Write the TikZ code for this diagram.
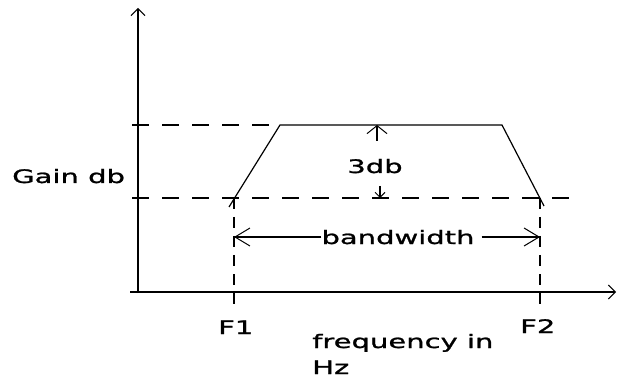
\documentclass[tikz,border=0pt]{standalone}
\usepackage{fontspec}
\setmainfont[FakeStretch=1.56,FakeBold=1.2]{DejaVu Sans}
\usetikzlibrary{arrows.meta}
\begin{document}
\begin{tikzpicture}[x=1pt,y=-1pt,
  lbl/.style={inner sep=0pt,font=\fontsize{18.6}{20}\selectfont},
  axis/.style={line width=1.4pt,-{Straight Barb[length=7pt,width=14pt,line width=1pt]}},
  guide/.style={line width=1.3pt,dash pattern=on 17pt off 13pt},
  fline/.style={line width=1.2pt,dash pattern=on 11pt off 8pt},
  curve/.style={line width=1.2pt},
  bwarrow/.style={line width=1.1pt,-{Straight Barb[length=15pt,width=18pt,line width=1pt]}},
  uparrow/.style={line width=1.1pt,-{Straight Barb[length=8pt,width=20pt,line width=1pt]}},
  dnarrow/.style={line width=1.1pt,-{Straight Barb[length=5pt,width=10pt,line width=1pt]}}]
\useasboundingbox (0,0) rectangle (618,379);
% coordinates
\coordinate (ytop) at (138,8);
\coordinate (xstart) at (130,292);
\coordinate (xend) at (616,292);
\coordinate (ybot) at (138,293);
\coordinate (a) at (234,198);
\coordinate (b) at (280,125);
\coordinate (c) at (502,125);
\coordinate (d) at (540,198);
\coordinate (a2) at (229,207);
\coordinate (d2) at (544,206);
\coordinate (hi0) at (132,125);
\coordinate (lo0) at (132,198);
\coordinate (lo1) at (580,198);
\coordinate (f1b) at (234,305);
\coordinate (f2b) at (540,305);
\coordinate (bwl) at (234,237);
\coordinate (bwr) at (540,237);
\coordinate (upt) at (377,125);
\coordinate (upb) at (377,141);
\coordinate (dnt) at (380,198);
\coordinate (dnb) at (380,186);
% axes
\draw[axis] (ybot) -- (ytop);
\draw[axis] (xstart) -- (xend);
% guides
\draw[guide] (hi0) -- (b);
\draw[guide] (lo0) -- (lo1);
\draw[fline] (a) -- (f1b);
\draw[fline] (d) -- (f2b);
% response
\draw[curve] (a2) -- (b) -- (c) -- (d2);
% labels
\node[lbl,anchor=base west] (gain) at (12,183) {Gain db};
\node[lbl,anchor=base] (db3) at (375,173) {3db};
\node[lbl,anchor=base] (bw) at (398,244) {bandwidth};
\node[lbl,anchor=base west] (F1) at (218,334) {F1};
\node[lbl,anchor=base west] (F2) at (520,333) {F2};
\node[lbl,anchor=base west] (freq) at (312,348) {frequency in};
\node[lbl,anchor=base west] (hz) at (312,374) {Hz};
% arrows
\draw[bwarrow] (bw.west |- bwl) -- (bwl);
\draw[bwarrow] (bw.east |- bwr) ++(7,0) -- (bwr);
\draw[uparrow] (upb) -- (upt);
\draw[dnarrow] (dnb) -- (dnt);
\end{tikzpicture}
\end{document}
